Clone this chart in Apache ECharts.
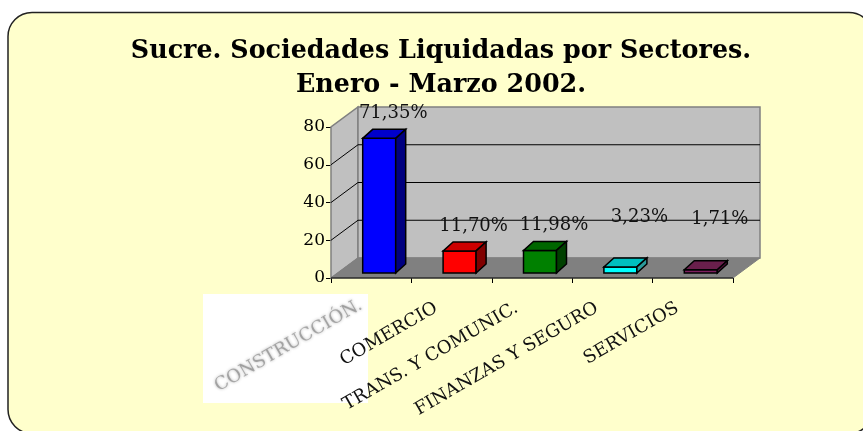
<!DOCTYPE html>
<html><head><meta charset="utf-8">
<style>html,body{margin:0;padding:0;background:#fff}#c{width:863px;height:431px}</style>
<script src="https://cdn.jsdelivr.net/npm/echarts@6/dist/echarts.min.js"></script>
</head><body><div id="c"></div>
<script>
const titleLines = ['Sucre. Sociedades Liquidadas por Sectores.', 'Enero - Marzo 2002.'];
const categories = ['CONSTRUCCIÓN.', 'COMERCIO', 'TRANS. Y COMUNIC.', 'FINANZAS Y SEGURO', 'SERVICIOS'];
const values = [71.35, 11.70, 11.98, 3.23, 1.71];
const yTicks = [0, 20, 40, 60, 80];
const frontColors = ['#0000ff', '#ff0000', '#008000', '#00ffff', '#7f1f5f'];
const topColors = ['#0000cc', '#cc0000', '#006600', '#00bfbf', '#6a1f4c'];
const sideColors = ['#000080', '#800000', '#004000', '#2a9a9a', '#4f1038'];

const FONT = '"DejaVu Serif", serif';
const WALL = [27, -20], BAR = [10, -9], INSET = [7, -5], BAR_W = 33;
const chart = echarts.init(document.getElementById('c'), null, {renderer: 'canvas'});
const poly = (points, fill, stroke, lineWidth) => ({type: 'polygon', shape: {points}, style: {fill, stroke, lineWidth: lineWidth || 1}});
const line = (a, b, stroke, lineWidth) => ({type: 'line', shape: {x1: a[0], y1: a[1], x2: b[0], y2: b[1]}, style: {stroke, lineWidth: lineWidth || 1}});
const shift = (p, d) => [p[0] + d[0], p[1] + d[1]];

function renderWalls(params, api) {
  const x0 = params.coordSys.x, x1 = x0 + params.coordSys.width;
  const y0 = api.coord([0, 0])[1], yTop = api.coord([0, 80])[1];
  const a = [x0, y0], b = [x1, y0], c = [x0, yTop], d = [x1, yTop];
  const kids = [
    poly([a, shift(a, WALL), shift(c, WALL), c], '#c0c0c0', '#808080', 1.5),
    poly([shift(a, WALL), shift(b, WALL), shift(d, WALL), shift(c, WALL)], '#c0c0c0', '#808080', 1.5),
    poly([a, shift(a, WALL), shift(b, WALL), b], '#808080', '#808080', 1)
  ];
  yTicks.filter(t => t > 0 && t < 80).forEach(t => {
    const y = api.coord([0, t])[1];
    kids.push(line([x0, y], shift([x0, y], WALL), '#000'));
    kids.push(line(shift([x0, y], WALL), shift([x1, y], WALL), '#000'));
  });
  kids.push(line(a, b, '#000'));
  return {type: 'group', children: kids};
}

function renderBar(params, api) {
  const i = api.value(0), v = api.value(1);
  const cx = api.coord([i, 0])[0] + INSET[0] + 1;
  const yb = api.coord([i, 0])[1] + INSET[1], yt = api.coord([i, v])[1] + INSET[1];
  const l = cx - BAR_W / 2, r = cx + BAR_W / 2;
  const small = v < 5;
  const label = v.toFixed(2).replace('.', ',') + '%';
  return {type: 'group', children: [
    poly([[l, yb], [r, yb], [r, yt], [l, yt]], frontColors[i], '#000', 1.5),
    poly([[l, yt], [r, yt], shift([r, yt], BAR), shift([l, yt], BAR)], topColors[i], '#000', 1.5),
    poly([[r, yb], shift([r, yb], BAR), shift([r, yt], BAR), [r, yt]], sideColors[i], '#000', 1.5),
    {type: 'text', style: {text: label, x: cx + (small ? 19 : 14), y: yt - (small ? 50 : 25), align: 'center', verticalAlign: 'middle', fill: '#111', font: '18px ' + FONT}}
  ]};
}

chart.setOption({
  animation: false,
  graphic: [
    {type: 'rect', z: 0, shape: {x: 8, y: 12.5, width: 865, height: 421, r: 24}, style: {fill: '#ffffcc', stroke: '#222', lineWidth: 1.5}},
    {type: 'rect', z: 0, shape: {x: 203, y: 294, width: 165, height: 109}, style: {fill: '#fff'}},
    {type: 'text', z: 5, style: {text: titleLines.join('\n'), x: 441, y: 34, align: 'center', verticalAlign: 'top', font: 'bold 25.4px ' + FONT, lineHeight: 34, fill: '#000'}}
  ],
  grid: {left: 331, right: 130, top: 127, bottom: 153, containLabel: false},
  xAxis: {
    type: 'category', data: categories,
    axisLine: {show: false},
    axisTick: {show: true, length: 5, lineStyle: {color: '#000'}},
    axisLabel: {
      interval: 0, rotate: 30, margin: 20,
      fontFamily: FONT, fontSize: 18, color: '#111',
      padding: [0, 12, 0, 0],
      formatter: (s) => s === categories[0] ? '{b|' + s + '}' : s + '\u00a0',
      rich: {b: {color: 'rgba(60,60,60,0.35)', fontFamily: FONT, fontSize: 18, textShadowColor: 'rgba(0,0,0,0.9)', textShadowBlur: 3}}
    }
  },
  yAxis: {
    type: 'value', min: 0, max: 80, interval: 20,
    splitLine: {show: false},
    axisLine: {show: true, lineStyle: {color: '#000'}},
    axisTick: {show: true, length: 5, lineStyle: {color: '#000'}},
    axisLabel: {fontFamily: FONT, fontSize: 17, color: '#000', margin: 6}
  },
  series: [
    {type: 'custom', z: 1, silent: true, renderItem: renderWalls, data: [[0, 0]], encode: {x: 0, y: 1}, clip: false},
    {type: 'custom', z: 3, silent: true, renderItem: renderBar, data: values.map((v, i) => [i, v]), encode: {x: 0, y: 1}, clip: false}
  ]
});
</script></body></html>
